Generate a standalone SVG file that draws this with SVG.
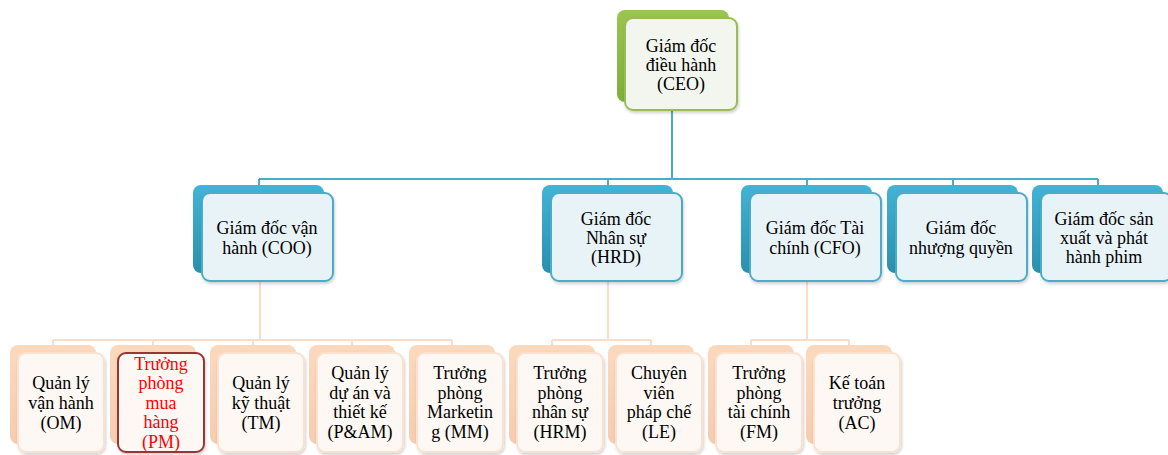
<svg xmlns="http://www.w3.org/2000/svg" width="1168" height="455" viewBox="0 0 1168 455">
<defs>
<linearGradient id="gGreen" x1="0" y1="0" x2="0" y2="1"><stop offset="0" stop-color="#9BC450"/><stop offset="1" stop-color="#7FAE3A"/></linearGradient>
<linearGradient id="gBlue" x1="0" y1="0" x2="0" y2="1"><stop offset="0" stop-color="#42B4D6"/><stop offset="1" stop-color="#2A8FAE"/></linearGradient>
<linearGradient id="gPeach" x1="0" y1="0" x2="0" y2="1"><stop offset="0" stop-color="#FCD9BD"/><stop offset="1" stop-color="#F5CDB0"/></linearGradient>
<filter id="sh" x="-10%" y="-10%" width="125%" height="125%"><feDropShadow dx="1" dy="2" stdDeviation="1.5" flood-color="#000" flood-opacity="0.18"/></filter>
</defs>
<style>
text{font-family:"Liberation Serif","Times New Roman",serif;font-size:18px;fill:#000;text-anchor:middle}
.ceoB{fill:url(#gGreen)}
.ceoF{fill:#F3F6EE;stroke:#9BBB59;stroke-width:2}
.l2B{fill:url(#gBlue)}
.l2F{fill:#E8F3F8;stroke:#4BACC6;stroke-width:2}
.l3B{fill:url(#gPeach)}
.l3F{fill:#FDF8F4;stroke:#FBE2D0;stroke-width:2}
.pmF{fill:#FDF8F4;stroke:#953735;stroke-width:2}
.red{fill:#FF0000}
.cb{fill:none;stroke:#4BACC6;stroke-width:2}
.cp{fill:none;stroke:#FBDCC6;stroke-width:2}
</style>
<rect width="1168" height="455" fill="#FFFFFF"/>
<g id="connectors">
<path class="cb" d="M672 110V179M259 179H1098M259 179V185M608 179V185M807 179V185M953 179V185M1098 179V185"/>
<path class="cp" d="M260 281V340M53 340H452M53 340V345M153 340V345M253 340V345M352 340V345M452 340V345"/>
<path class="cp" d="M608 281V340M552 340H651M552 340V345M651 340V345"/>
<path class="cp" d="M807 281V340M751 340H849M751 340V345M849 340V345"/>
</g>
<g id="ceo">
<rect class="ceoB" x="617" y="10" width="112" height="92" rx="8"/>
<rect class="ceoF" x="625" y="18" width="112" height="92" rx="8" filter="url(#sh)"/>
<text x="681" y="52">Giám đốc</text><text x="681" y="71">điều hành</text><text x="681" y="90">(CEO)</text>
</g>
<g id="coo">
<rect class="l2B" x="193" y="185" width="131" height="88" rx="8"/>
<rect class="l2F" x="202" y="193" width="131" height="88" rx="8" filter="url(#sh)"/>
<text x="267" y="234">Giám đốc vận</text><text x="267" y="254">hành (COO)</text>
</g>
<g id="hrd">
<rect class="l2B" x="542" y="185" width="131" height="88" rx="8"/>
<rect class="l2F" x="551" y="193" width="131" height="88" rx="8" filter="url(#sh)"/>
<text x="616" y="225">Giám đốc</text><text x="616" y="244">Nhân sự</text><text x="616" y="263">(HRD)</text>
</g>
<g id="cfo">
<rect class="l2B" x="741" y="185" width="131" height="88" rx="8"/>
<rect class="l2F" x="750" y="193" width="131" height="88" rx="8" filter="url(#sh)"/>
<text x="815" y="234">Giám đốc Tài</text><text x="815" y="254">chính (CFO)</text>
</g>
<g id="franchise">
<rect class="l2B" x="887" y="185" width="131" height="88" rx="8"/>
<rect class="l2F" x="896" y="193" width="131" height="88" rx="8" filter="url(#sh)"/>
<text x="961" y="234">Giám đốc</text><text x="961" y="254">nhượng quyền</text>
</g>
<g id="film">
<rect class="l2B" x="1032" y="185" width="131" height="88" rx="8"/>
<rect class="l2F" x="1041" y="193" width="131" height="88" rx="8" filter="url(#sh)"/>
<text x="1104" y="225">Giám đốc sản</text><text x="1104" y="244">xuất và phát</text><text x="1104" y="263">hành phim</text>
</g>
<g id="om">
<rect class="l3B" x="10" y="345" width="86" height="99" rx="8"/>
<rect class="l3F" x="18" y="353" width="86" height="99" rx="8" filter="url(#sh)"/>
<text x="61" y="389">Quản lý</text><text x="61" y="409">vận hành</text><text x="61" y="429">(OM)</text>
</g>
<g id="pm">
<rect class="l3B" x="110" y="345" width="86" height="99" rx="8"/>
<rect class="pmF" x="118" y="353" width="86" height="99" rx="8" filter="url(#sh)"/>
<text class="red" x="161" y="370">Trưởng</text><text class="red" x="161" y="389">phòng</text><text class="red" x="161" y="409">mua</text><text class="red" x="161" y="428">hàng</text><text class="red" x="161" y="448">(PM)</text>
</g>
<g id="tm">
<rect class="l3B" x="210" y="345" width="86" height="99" rx="8"/>
<rect class="l3F" x="218" y="353" width="86" height="99" rx="8" filter="url(#sh)"/>
<text x="261" y="389">Quản lý</text><text x="261" y="409">kỹ thuật</text><text x="261" y="429">(TM)</text>
</g>
<g id="pam">
<rect class="l3B" x="309" y="345" width="86" height="99" rx="8"/>
<rect class="l3F" x="317" y="353" width="86" height="99" rx="8" filter="url(#sh)"/>
<text x="360" y="379">Quản lý</text><text x="360" y="399">dự án và</text><text x="360" y="418">thiết kế</text><text x="360" y="438">(P&amp;AM)</text>
</g>
<g id="mm">
<rect class="l3B" x="409" y="345" width="86" height="99" rx="8"/>
<rect class="l3F" x="417" y="353" width="86" height="99" rx="8" filter="url(#sh)"/>
<text x="460" y="379">Trưởng</text><text x="460" y="399">phòng</text><text x="460" y="418">Marketin</text><text x="460" y="438">g (MM)</text>
</g>
<g id="hrm">
<rect class="l3B" x="509" y="345" width="86" height="99" rx="8"/>
<rect class="l3F" x="517" y="353" width="86" height="99" rx="8" filter="url(#sh)"/>
<text x="560" y="379">Trưởng</text><text x="560" y="399">phòng</text><text x="560" y="418">nhân sự</text><text x="560" y="438">(HRM)</text>
</g>
<g id="le">
<rect class="l3B" x="608" y="345" width="86" height="99" rx="8"/>
<rect class="l3F" x="616" y="353" width="86" height="99" rx="8" filter="url(#sh)"/>
<text x="659" y="379">Chuyên</text><text x="659" y="399">viên</text><text x="659" y="418">pháp chế</text><text x="659" y="438">(LE)</text>
</g>
<g id="fm">
<rect class="l3B" x="708" y="345" width="86" height="99" rx="8"/>
<rect class="l3F" x="716" y="353" width="86" height="99" rx="8" filter="url(#sh)"/>
<text x="759" y="379">Trưởng</text><text x="759" y="399">phòng</text><text x="759" y="418">tài chính</text><text x="759" y="438">(FM)</text>
</g>
<g id="ac">
<rect class="l3B" x="806" y="345" width="86" height="99" rx="8"/>
<rect class="l3F" x="814" y="353" width="86" height="99" rx="8" filter="url(#sh)"/>
<text x="857" y="389">Kế toán</text><text x="857" y="409">trưởng</text><text x="857" y="429">(AC)</text>
</g>
</svg>
